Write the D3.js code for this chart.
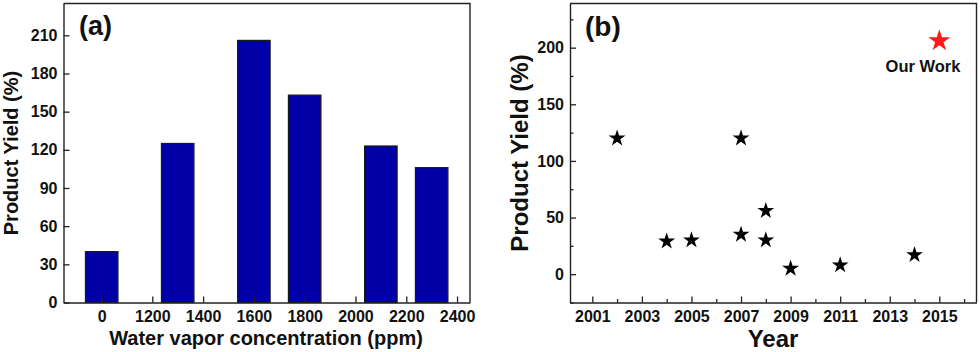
<!DOCTYPE html>
<html>
<head>
<meta charset="utf-8">
<script src="https://cdn.jsdelivr.net/npm/d3@7"></script>
<style>
  body { margin: 0; background: #fff; }
  svg text { font-family: "Liberation Sans", Arial, sans-serif; font-weight: bold; fill: #111; }
</style>
</head>
<body>
<svg id="chart" width="980" height="352"></svg>
<script>
// panel (a): yield vs water vapor concentration
var ppmValues = [0, 1300, 1600, 1800, 2100, 2300];
var yieldA = [40, 125, 206, 163, 123, 106];
var ppmTicks = [0, 1200, 1400, 1600, 1800, 2000, 2200, 2400];
var yTicksA = [0, 30, 60, 90, 120, 150, 180, 210];

// panel (b): literature comparison
var years = [2002, 2004, 2005, 2007, 2007, 2008, 2008, 2009, 2011, 2014];
var yieldB = [120, 29, 30, 120, 35, 56, 30, 5, 8, 17];
var ourYear = [2015];
var ourYield = [206];
var yearTicks = [2001, 2003, 2005, 2007, 2009, 2011, 2013, 2015];
var yearMinor = [2002, 2004, 2006, 2008, 2010, 2012, 2014, 2016];
var yTicksB = [0, 50, 100, 150, 200];
var yMinorB = [-25, 25, 75, 125, 175, 225];

var svg = d3.select("#chart");
var axisColor = "#222";
var fmt = d3.format("d");

// ---------- panel (a) ----------
var a = { left: 63.5, right: 470, top: 3.5, bottom: 302.5 };
// broken axis: 0 -> 1200 is squeezed into one tick step
var xA = d3.scaleLinear()
    .domain([-151, 0, 1200, 2451])
    .range([a.left, 101.7, 152.3, a.right]);
var yA = d3.scaleLinear().domain([0, 235]).range([a.bottom, a.top]);

var gA = svg.append("g");
var step = xA(1400) - xA(1200);
var bw = step * 0.64;

gA.selectAll("rect.bar")
  .data(ppmValues)
  .enter().append("rect")
    .attr("class", "bar")
    .attr("x", function(d) { return xA(d) - bw / 2; })
    .attr("y", function(d, i) { return yA(yieldA[i]); })
    .attr("width", bw)
    .attr("height", function(d, i) { return yA(0) - yA(yieldA[i]); })
    .attr("fill", "#0000a6")
    .attr("stroke", "#1a1a1a")
    .attr("stroke-width", 1.2);

var axA_x = gA.append("g")
    .attr("transform", "translate(0," + a.bottom + ")")
    .call(d3.axisBottom(xA).tickValues(ppmTicks).tickFormat(fmt)
      .tickSizeInner(-6).tickSizeOuter(0).tickPadding(8));
var axA_y = gA.append("g")
    .attr("transform", "translate(" + a.left + ",0)")
    .call(d3.axisLeft(yA).tickValues(yTicksA).tickFormat(fmt)
      .tickSizeInner(-6).tickSizeOuter(0).tickPadding(6));

[axA_x, axA_y].forEach(function(ax) {
  ax.select(".domain").attr("stroke", axisColor).attr("stroke-width", 1.4);
  ax.selectAll(".tick line").attr("stroke", axisColor).attr("stroke-width", 1.3);
  ax.selectAll(".tick text").attr("font-size", 16).attr("fill", "#111")
    .attr("font-family", "Liberation Sans, Arial, sans-serif").attr("font-weight", "bold");
});
// frame top/right
gA.append("path")
  .attr("d", "M" + a.left + "," + a.top + "H" + a.right + "V" + a.bottom)
  .attr("fill", "none").attr("stroke", axisColor).attr("stroke-width", 1.4);

gA.append("text").attr("x", 79).attr("y", 35).attr("font-size", 27).text("(a)");
gA.append("text")
  .attr("transform", "translate(18," + ((a.top + a.bottom) / 2) + ") rotate(-90)")
  .attr("text-anchor", "middle").attr("font-size", 20).text("Product Yield (%)");
gA.append("text")
  .attr("x", 266).attr("y", 345).attr("text-anchor", "middle")
  .attr("font-size", 20).text("Water vapor concentration (ppm)");

// ---------- panel (b) ----------
var b = { left: 570, right: 976.5, top: 3.5, bottom: 302.5 };
var xB = d3.scaleLinear().domain([2000.1, 2016.5]).range([b.left, b.right]);
var yB = d3.scaleLinear().domain([-25, 239]).range([b.bottom, b.top]);

var gB = svg.append("g");

var axB_x = gB.append("g")
    .attr("transform", "translate(0," + b.bottom + ")")
    .call(d3.axisBottom(xB).tickValues(yearTicks).tickFormat(fmt)
      .tickSizeInner(-6).tickSizeOuter(0).tickPadding(8));
var axB_y = gB.append("g")
    .attr("transform", "translate(" + b.left + ",0)")
    .call(d3.axisLeft(yB).tickValues(yTicksB).tickFormat(fmt)
      .tickSizeInner(-6).tickSizeOuter(0).tickPadding(6));

gB.append("g")
    .attr("transform", "translate(0," + b.bottom + ")")
    .call(d3.axisBottom(xB).tickValues(yearMinor).tickSize(-3.5).tickFormat(""))
    .call(function(g) { g.select(".domain").remove(); })
    .selectAll("line").attr("stroke", axisColor).attr("stroke-width", 1.3);
gB.append("g")
    .attr("transform", "translate(" + b.left + ",0)")
    .call(d3.axisLeft(yB).tickValues(yMinorB).tickSize(-3.5).tickFormat(""))
    .call(function(g) { g.select(".domain").remove(); })
    .selectAll("line").attr("stroke", axisColor).attr("stroke-width", 1.3);

[axB_x, axB_y].forEach(function(ax) {
  ax.select(".domain").attr("stroke", axisColor).attr("stroke-width", 1.4);
  ax.selectAll(".tick line").attr("stroke", axisColor).attr("stroke-width", 1.3);
  ax.selectAll(".tick text").attr("font-size", 16).attr("fill", "#111")
    .attr("font-family", "Liberation Sans, Arial, sans-serif").attr("font-weight", "bold");
});
gB.append("path")
  .attr("d", "M" + b.left + "," + b.top + "H" + b.right + "V" + b.bottom)
  .attr("fill", "none").attr("stroke", axisColor).attr("stroke-width", 1.4);

var star = d3.symbol().type(d3.symbolStar);
gB.selectAll("path.pt")
  .data(years)
  .enter().append("path")
    .attr("class", "pt")
    .attr("d", star.size(88)())
    .attr("transform", function(d, i) { return "translate(" + xB(d) + "," + yB(yieldB[i]) + ")"; })
    .attr("fill", "#000");

gB.selectAll("path.our")
  .data(ourYear)
  .enter().append("path")
    .attr("class", "our")
    .attr("d", star.size(150)())
    .attr("transform", function(d, i) { return "translate(" + xB(d) + "," + yB(ourYield[i]) + ")"; })
    .attr("fill", "#ff1a1a");

gB.append("text").attr("x", 923).attr("y", 72).attr("text-anchor", "middle")
  .attr("font-size", 16.5).text("Our Work");
gB.append("text").attr("x", 585).attr("y", 36).attr("font-size", 28).text("(b)");
gB.append("text")
  .attr("transform", "translate(528," + ((b.top + b.bottom) / 2) + ") rotate(-90)")
  .attr("text-anchor", "middle").attr("font-size", 24).text("Product Yield (%)");
gB.append("text")
  .attr("x", 773).attr("y", 347).attr("text-anchor", "middle")
  .attr("font-size", 24).text("Year");
</script>
</body>
</html>
